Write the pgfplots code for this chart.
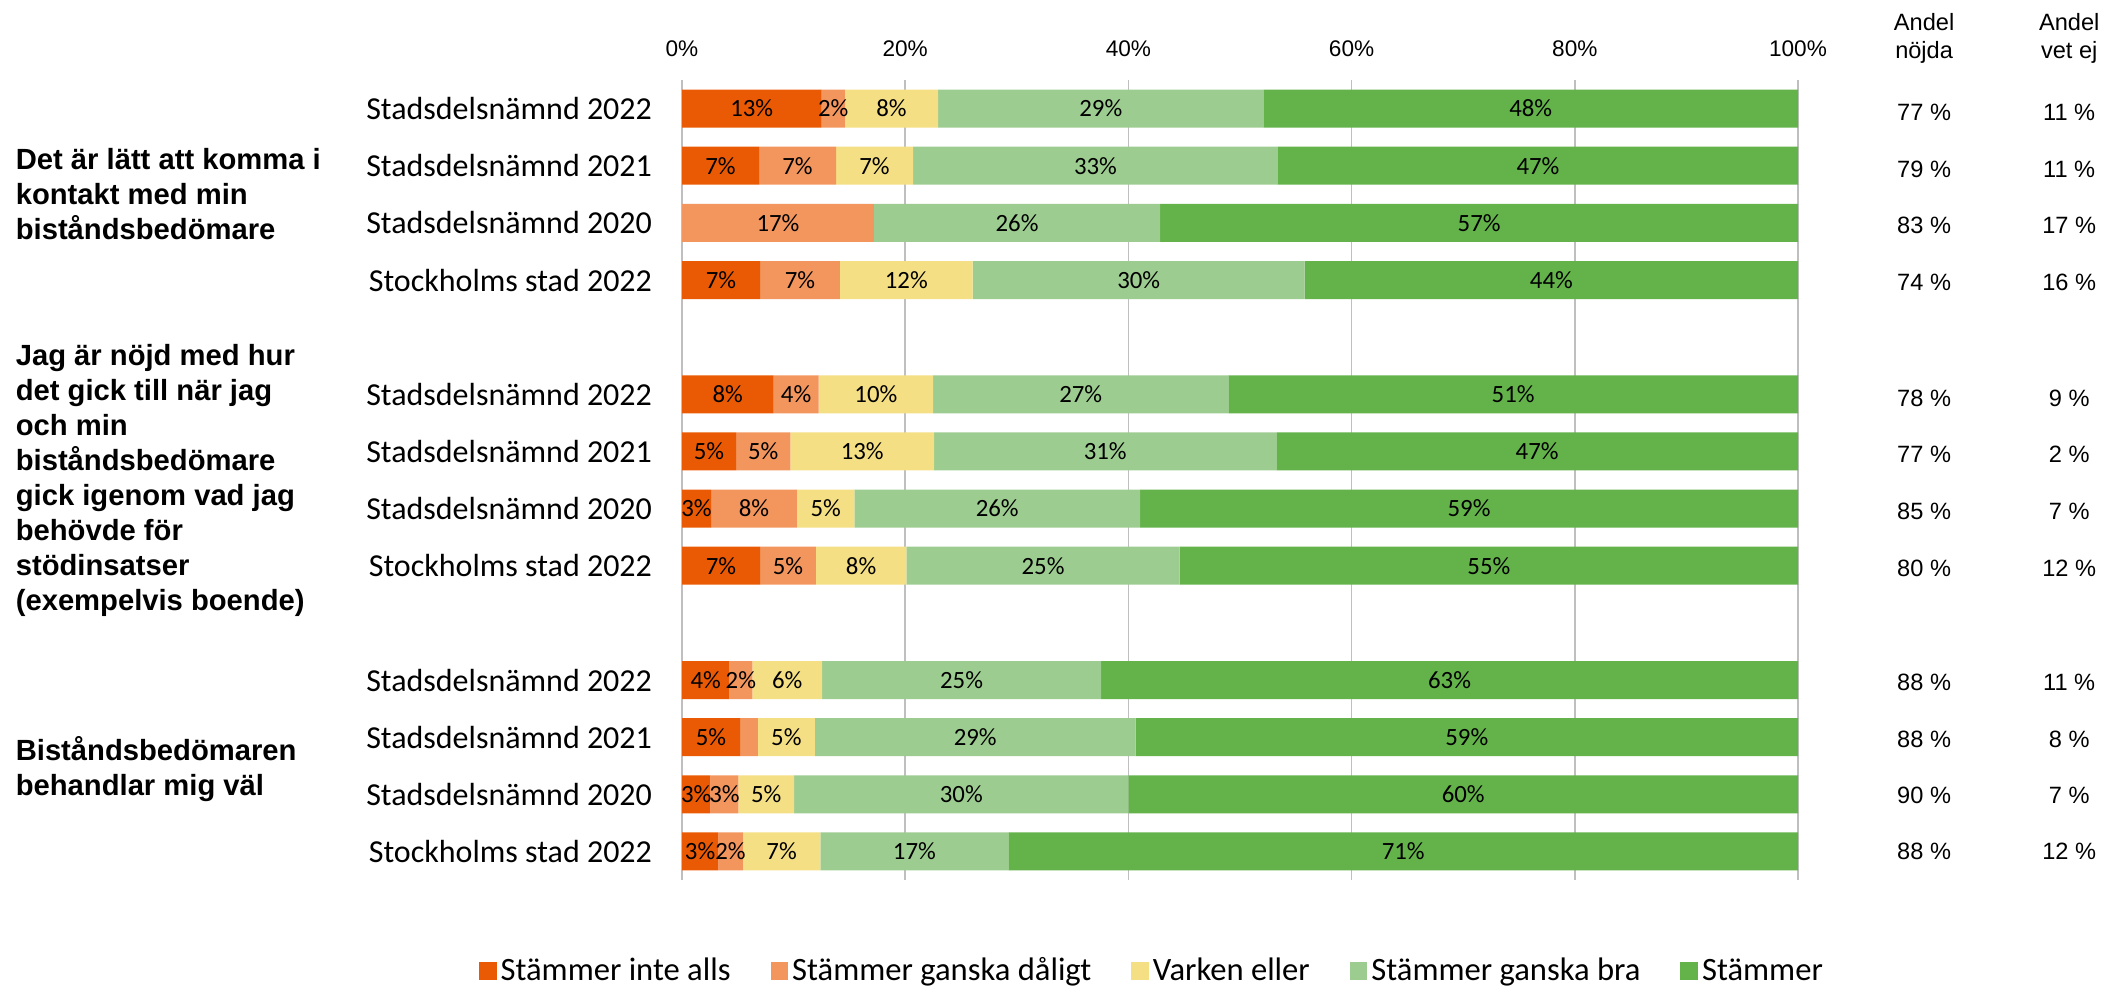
\documentclass[border=0pt]{standalone}
\usepackage{pgfplots}
\usepackage{pgfplotstable}
\pgfplotsset{compat=1.18}
\usepackage{fontspec}
\setmainfont{Carlito}
\newfontfamily\arialfont{Liberation Sans}

\definecolor{cA}{RGB}{234,90,4}
\definecolor{cB}{RGB}{242,150,94}
\definecolor{cC}{RGB}{245,223,132}
\definecolor{cD}{RGB}{157,204,144}
\definecolor{cE}{RGB}{99,178,74}

\tikzset{
  rcol/.style={font=\arialfont\fontsize{11.8}{14}\selectfont, align=center, inner sep=0pt},
  grp/.style={font=\arialfont\bfseries\fontsize{14.6}{17.5}\selectfont, align=left, anchor=west, inner sep=0pt},
}

% segment widths (percent), y = row position (13 = top)
\pgfplotstableread{
y a b c d e
13 12.5 2.1 8.35 29.15 47.9
12 6.9 6.9 6.9 32.7 46.6
11 0 17.2 0 25.65 57.15
10 7.0 7.15 11.9 29.75 44.2
8 8.2 4.05 10.25 26.45 51.05
7 4.85 4.85 12.9 30.65 46.75
6 2.6 7.7 5.15 25.6 58.95
5 7.0 5.0 8.1 24.5 55.4
3 4.25 2.05 6.25 25.0 62.45
2 5.2 1.6 5.1 28.75 59.35
1 2.55 2.5 5.0 29.95 60.0
0 3.25 2.2 6.95 16.85 70.75
}\datatable

% data labels: x = segment middle, y = row, l = printed value
\pgfplotstableread{
x y l
6.25 13 13
13.55 13 2
18.775 13 8
37.525 13 29
76.05 13 48
3.45 12 7
10.35 12 7
17.25 12 7
37.05 12 33
76.7 12 47
8.6 11 17
30.025 11 26
71.425 11 57
3.5 10 7
10.575 10 7
20.1 10 12
40.925 10 30
77.9 10 44
4.1 8 8
10.225 8 4
17.375 8 10
35.725 8 27
74.475 8 51
2.425 7 5
7.275 7 5
16.15 7 13
37.925 7 31
76.625 7 47
1.3 6 3
6.45 6 8
12.875 6 5
28.25 6 26
70.525 6 59
3.5 5 7
9.5 5 5
16.05 5 8
32.35 5 25
72.3 5 55
2.125 3 4
5.275 3 2
9.425 3 6
25.05 3 25
68.775 3 63
2.6 2 5
9.35 2 5
26.275 2 29
70.325 2 59
1.275 1 3
3.8 1 3
7.55 1 5
25.025 1 30
70.0 1 60
1.625 0 3
4.35 0 2
8.925 0 7
20.825 0 17
64.625 0 71
}\labeltable

\pgfplotsset{myframe/.style={
  at={(341pt,-40pt)}, anchor=north west,
  width=558pt, height=400pt, scale only axis,
  xmin=0, xmax=100, ymin=-0.5, ymax=13.5, clip=false}}

\begin{document}
\begin{tikzpicture}
\path[use as bounding box] (0,0) rectangle (1056.5pt,-493.5pt);
\begin{axis}[
  myframe,
  xbar stacked, bar width=19pt,
  axis line style={draw=none},
  major tick length=0pt,
  xtick={0,20,40,60,80,100},
  xticklabels={0\%,20\%,40\%,60\%,80\%,100\%},
  xticklabel pos=right,
  xticklabel style={font=\arialfont\fontsize{11.3}{13}\selectfont, anchor=base, inner sep=0pt, yshift=11.7pt},
  xmajorgrids,
  grid style={black!25, line width=0.8pt},
  ytick={0,1,2,3,5,6,7,8,10,11,12,13},
  yticklabels={Stockholms stad 2022,Stadsdelsnämnd 2020,Stadsdelsnämnd 2021,Stadsdelsnämnd 2022,
               Stockholms stad 2022,Stadsdelsnämnd 2020,Stadsdelsnämnd 2021,Stadsdelsnämnd 2022,
               Stockholms stad 2022,Stadsdelsnämnd 2020,Stadsdelsnämnd 2021,Stadsdelsnämnd 2022},
  yticklabel style={font=\fontsize{16}{19}\selectfont, inner sep=0pt, xshift=-14.8pt},
  legend columns=5,
  legend style={at={(axis description cs:0.422,-0.1135)}, anchor=center, draw=none, fill=none,
    font=\fontsize{16.3}{19}\selectfont,
    /tikz/every even column/.append style={column sep=18pt}},
  legend image code/.code={\draw[#1,draw=none] (0pt,-4.4pt) rectangle (8.8pt,4.4pt);},
]
\addplot[fill=cA, draw=none] table[x=a, y=y] {\datatable};
\addplot[fill=cB, draw=none] table[x=b, y=y] {\datatable};
\addplot[fill=cC, draw=none] table[x=c, y=y] {\datatable};
\addplot[fill=cD, draw=none] table[x=d, y=y] {\datatable};
\addplot[fill=cE, draw=none] table[x=e, y=y] {\datatable};
\legend{Stämmer inte alls, Stämmer ganska dåligt, Varken eller, Stämmer ganska bra, Stämmer}

\node[rcol] at (axis cs:111.3,14.22) {Andel\\nöjda};
\node[rcol] at (axis cs:124.3,14.22) {Andel\\vet ej};
\node[rcol] at (axis cs:111.3,12.93) {77 \%}; \node[rcol] at (axis cs:124.3,12.93) {11 \%};
\node[rcol] at (axis cs:111.3,11.93) {79 \%}; \node[rcol] at (axis cs:124.3,11.93) {11 \%};
\node[rcol] at (axis cs:111.3,10.95) {83 \%}; \node[rcol] at (axis cs:124.3,10.95) {17 \%};
\node[rcol] at (axis cs:111.3,9.95) {74 \%};  \node[rcol] at (axis cs:124.3,9.95) {16 \%};
\node[rcol] at (axis cs:111.3,7.93) {78 \%};  \node[rcol] at (axis cs:124.3,7.93) {9 \%};
\node[rcol] at (axis cs:111.3,6.95) {77 \%};  \node[rcol] at (axis cs:124.3,6.95) {2 \%};
\node[rcol] at (axis cs:111.3,5.95) {85 \%};  \node[rcol] at (axis cs:124.3,5.95) {7 \%};
\node[rcol] at (axis cs:111.3,4.95) {80 \%};  \node[rcol] at (axis cs:124.3,4.95) {12 \%};
\node[rcol] at (axis cs:111.3,2.95) {88 \%};  \node[rcol] at (axis cs:124.3,2.95) {11 \%};
\node[rcol] at (axis cs:111.3,1.97) {88 \%};  \node[rcol] at (axis cs:124.3,1.97) {8 \%};
\node[rcol] at (axis cs:111.3,0.98) {90 \%};  \node[rcol] at (axis cs:124.3,0.98) {7 \%};
\node[rcol] at (axis cs:111.3,0) {88 \%};     \node[rcol] at (axis cs:124.3,0) {12 \%};

\node[grp] at (axis cs:-59.73,11.5) {Det är lätt att komma i\\kontakt med min\\biståndsbedömare};
\node[grp] at (axis cs:-59.73,6.5) {Jag är nöjd med hur\\det gick till när jag\\och min\\biståndsbedömare\\gick igenom vad jag\\behövde för\\stödinsatser\\(exempelvis boende)};
\node[grp] at (axis cs:-59.73,1.45) {Biståndsbedömaren\\behandlar mig väl};
\end{axis}

\begin{axis}[myframe, hide axis]
\addplot[only marks, mark=none, point meta=explicit symbolic,
  nodes near coords={\pgfplotspointmeta\%},
  nodes near coords style={font=\fontsize{12.4}{14}\selectfont, text=black, anchor=center, inner sep=0pt}]
  table[x=x, y=y, meta=l] {\labeltable};
\end{axis}
\end{tikzpicture}
\end{document}
